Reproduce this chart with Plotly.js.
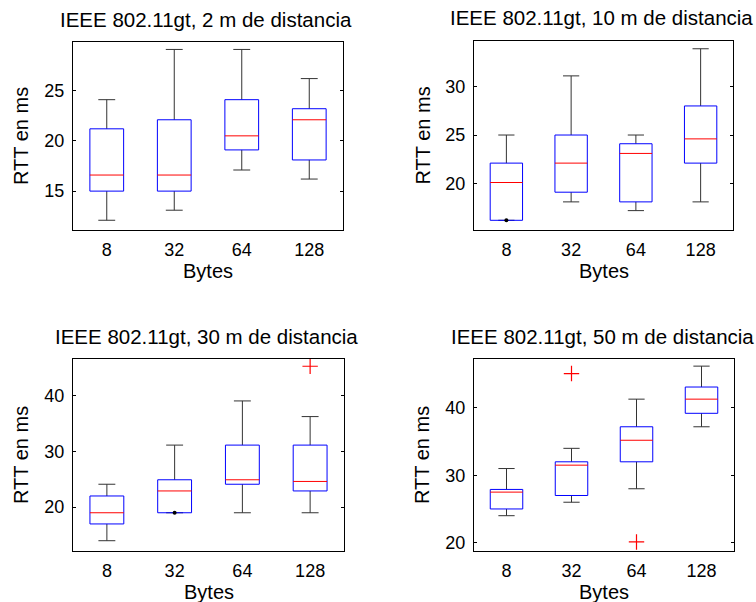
<!DOCTYPE html>
<html>
<head>
<meta charset="utf-8">
<script src="https://cdn.plot.ly/plotly-3.0.1.min.js"></script>
<style>html,body{margin:0;padding:0;background:#fff;}#chart{width:756px;height:602px;}</style>
</head>
<body>
<div id="chart"></div>
<script>
// ---- data ----
const categories = ['8', '32', '64', '128'];
const subplotTitles = [
  'IEEE 802.11gt, 2 m de distancia',
  'IEEE 802.11gt, 10 m de distancia',
  'IEEE 802.11gt, 30 m de distancia',
  'IEEE 802.11gt, 50 m de distancia'
];
// 2 m
const lower2m  = [12.1, 13.1, 17.1, 16.2];
const q1_2m    = [15.0, 15.0, 19.1, 18.1];
const median2m = [16.6, 16.6, 20.5, 22.1];
const q3_2m    = [21.2, 22.1, 24.1, 23.2];
const upper2m  = [24.1, 29.1, 29.1, 26.2];
const outCat2m = [];
const outVal2m = [];
// 10 m
const lower10m  = [16.2, 18.1, 17.2, 18.1];
const q1_10m    = [16.2, 19.1, 18.1, 22.1];
const median10m = [20.1, 22.1, 23.1, 24.6];
const q3_10m    = [22.1, 25.0, 24.1, 28.0];
const upper10m  = [25.0, 31.1, 25.0, 33.9];
const outCat10m = [];
const outVal10m = [];
// 30 m
const lower30m  = [14.0, 19.0, 19.0, 19.0];
const q1_30m    = [17.0, 19.0, 24.1, 22.9];
const median30m = [19.0, 22.9, 24.9, 24.6];
const q3_30m    = [22.0, 24.9, 31.1, 31.1];
const upper30m  = [24.1, 31.1, 39.0, 36.2];
const outCat30m = ['128'];
const outVal30m = [45.2];
// 50 m
const lower50m  = [24.0, 26.0, 28.0, 37.2];
const q1_50m    = [25.0, 27.0, 32.0, 39.2];
const median50m = [27.5, 31.5, 35.2, 41.3];
const q3_50m    = [27.9, 32.0, 37.2, 43.1];
const upper50m  = [31.0, 34.0, 41.3, 46.2];
const outCat50m = ['32', '64'];
const outVal50m = [45.1, 20.1];

// ---- drawing ----
const FONT = 'Liberation Sans, Arial, Helvetica, sans-serif';
const BOX_HALF = 0.25, CAP_HALF = 0.125;
const traces = [];

function addBoxplot(k, lo, q1, med, q3, hi, outCat, outVal) {
  const xa = 'x' + (k === 1 ? '' : k), ya = 'y' + (k === 1 ? '' : k);
  const wx = [], wy = [], bx = [], by = [], mx = [], my = [], dx = [], dy = [];
  categories.forEach((c, i) => {
    const p = i + 1;
    // whiskers
    wx.push(p, p, null, p, p, null, p - CAP_HALF, p + CAP_HALF, null, p - CAP_HALF, p + CAP_HALF, null);
    wy.push(q3[i], hi[i], null, q1[i], lo[i], null, hi[i], hi[i], null, lo[i], lo[i], null);
    // box
    bx.push(p - BOX_HALF, p + BOX_HALF, p + BOX_HALF, p - BOX_HALF, p - BOX_HALF, null);
    by.push(q1[i], q1[i], q3[i], q3[i], q1[i], null);
    // median
    mx.push(p - BOX_HALF, p + BOX_HALF, null);
    my.push(med[i], med[i], null);
    if (lo[i] === q1[i]) { dx.push(p); dy.push(lo[i]); }
  });
  traces.push({x: wx, y: wy, xaxis: xa, yaxis: ya, mode: 'lines', line: {color: '#333', width: 1}, hoverinfo: 'skip', showlegend: false});
  traces.push({x: bx, y: by, xaxis: xa, yaxis: ya, mode: 'lines', line: {color: '#0000FF', width: 1}, hoverinfo: 'skip', showlegend: false});
  traces.push({x: mx, y: my, xaxis: xa, yaxis: ya, mode: 'lines', line: {color: '#FF0000', width: 1}, hoverinfo: 'skip', showlegend: false});
  if (dx.length) traces.push({x: dx, y: dy, xaxis: xa, yaxis: ya, mode: 'markers', marker: {color: '#000', size: 4}, hoverinfo: 'skip', showlegend: false});
  outCat.forEach((c, j) => {
    traces.push({
      x: [categories.indexOf(c) + 1], y: [outVal[j]], xaxis: xa, yaxis: ya, mode: 'markers',
      marker: {symbol: 'cross-thin', size: 11, color: '#FF0000', line: {color: '#FF0000', width: 1.2}},
      hoverinfo: 'skip', showlegend: false
    });
  });
}
addBoxplot(1, lower2m, q1_2m, median2m, q3_2m, upper2m, outCat2m, outVal2m);
addBoxplot(2, lower10m, q1_10m, median10m, q3_10m, upper10m, outCat10m, outVal10m);
addBoxplot(3, lower30m, q1_30m, median30m, q3_30m, upper30m, outCat30m, outVal30m);
addBoxplot(4, lower50m, q1_50m, median50m, q3_50m, upper50m, outCat50m, outVal50m);

const W = 756, H = 602;
const px = v => v / W, py = v => 1 - v / H;
// pixel frames [left, right, top, bottom]
const frames = [[73, 343, 42, 230], [474, 733, 41, 230], [73, 344, 359, 551], [474, 734, 359, 551]];
const yRanges = [[11.13, 29.84], [15.2, 34.7], [12.16, 46.5], [18.76, 47.26]];
const yDticks = [5, 5, 10, 10];

const layout = {
  width: W, height: H, margin: {l: 0, r: 0, t: 0, b: 0},
  paper_bgcolor: '#fff', plot_bgcolor: '#fff',
  font: {family: FONT, color: '#000', size: 18},
  showlegend: false, annotations: []
};
frames.forEach((f, i) => {
  const s = i === 0 ? '' : String(i + 1);
  layout['xaxis' + s] = {
    domain: [px(f[0]), px(f[1])], range: [0.5, 4.5], anchor: 'y' + s,
    tickmode: 'array', tickvals: [1, 2, 3, 4], ticktext: categories, ticks: '',
    showline: true, mirror: true, linecolor: '#000', linewidth: 1,
    showgrid: false, zeroline: false, tickfont: {size: 18, family: FONT}, ticklabelstandoff: 3, fixedrange: true
  };
  layout['yaxis' + s] = {
    domain: [py(f[3]), py(f[2])], range: yRanges[i], anchor: 'x' + s,
    dtick: yDticks[i], tick0: 0, ticks: 'inside', ticklen: 3, tickcolor: '#000', tickwidth: 1,
    showline: true, mirror: 'ticks', linecolor: '#000', linewidth: 1,
    showgrid: false, zeroline: false, tickfont: {size: 18, family: FONT}, ticklabelstandoff: 4, fixedrange: true
  };
  const cx = (f[0] + f[1]) / 2;
  layout.annotations.push({
    text: subplotTitles[i], xref: 'paper', yref: 'paper', x: px(cx - 2), y: py(f[2] - 23),
    xanchor: 'center', yanchor: 'middle', showarrow: false, font: {size: 20.5, family: FONT, color: '#000'}
  });
  layout.annotations.push({
    text: 'Bytes', xref: 'paper', yref: 'paper', x: px(cx), y: py(f[3] + 41),
    xanchor: 'center', yanchor: 'middle', showarrow: false, font: {size: 20, family: FONT, color: '#000'}
  });
  layout.annotations.push({
    text: 'RTT en ms', xref: 'paper', yref: 'paper', x: px(f[0] - 52), y: py((f[2] + f[3]) / 2),
    xanchor: 'center', yanchor: 'middle', textangle: -90, showarrow: false, font: {size: 20, family: FONT, color: '#000'}
  });
});

Plotly.newPlot('chart', traces, layout, {staticPlot: true, displayModeBar: false});
</script>
</body>
</html>
